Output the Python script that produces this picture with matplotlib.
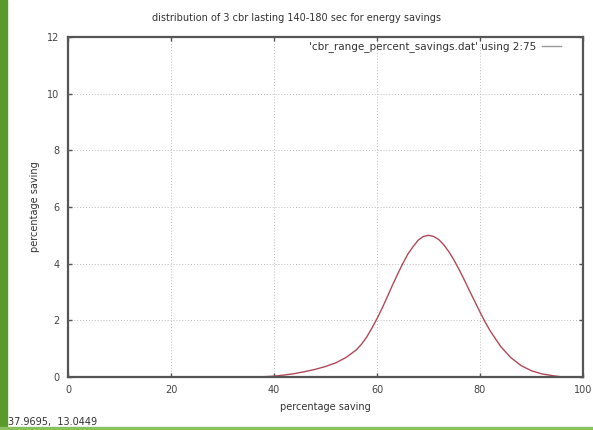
#!/usr/bin/env python3

import matplotlib
matplotlib.use("Agg")
import matplotlib.pyplot as plt
from matplotlib.patches import Rectangle

plt.rcParams['font.family'] = 'DejaVu Sans'
plt.rcParams['font.size'] = 7

# percentage saving vs percent of runs
savings = [34, 36, 38, 40, 42, 44, 46, 48, 50, 52, 54, 56, 57, 58, 59, 60, 61,
           62, 63, 64, 65, 66, 67, 68, 69, 70, 71, 72, 73, 74, 75, 76, 77, 78,
           79, 80, 81, 82, 84, 86, 88, 90, 92, 94, 96]
percent = [0.0, 0.0, 0.01, 0.03, 0.07, 0.12, 0.19, 0.27, 0.37, 0.5, 0.69,
           0.96, 1.16, 1.41, 1.72, 2.06, 2.43, 2.83, 3.24, 3.63, 4.0, 4.34,
           4.6, 4.83, 4.96, 5.0, 4.96, 4.85, 4.66, 4.41, 4.11, 3.77, 3.41,
           3.03, 2.66, 2.29, 1.94, 1.62, 1.08, 0.68, 0.4, 0.22, 0.11, 0.05, 0.0]

xticks = [0, 20, 40, 60, 80, 100]
yticks = [0, 2, 4, 6, 8, 10, 12]

title = "distribution of 3 cbr lasting 140-180 sec for energy savings"
legend_label = "'cbr_range_percent_savings.dat' using 2:75"
mouse_pos = "37.9695,  13.0449"

fig = plt.figure(figsize=(5.93, 4.30), dpi=100)
ax = fig.add_axes([68 / 593, 1 - 377 / 430, (583 - 68) / 593, (377 - 37) / 430])

ax.plot(savings, percent, color="#b04a58", linewidth=1.0, label=legend_label)

ax.set_xlim(0, 100)
ax.set_ylim(0, 12)
ax.set_xticks(xticks)
ax.set_yticks(yticks)
ax.tick_params(direction="in", length=3, width=1.0, top=True, right=True,
               colors="#555555", labelcolor="#444444", pad=6)
ax.grid(True, linestyle=(0, (1, 2)), color="#bbbbbb", linewidth=0.7)
for side in ax.spines.values():
    side.set_color("#555555")
    side.set_linewidth(1.6)

ax.set_xlabel("percentage saving", color="#333333", labelpad=5)
ax.set_ylabel("percentage saving", color="#333333", labelpad=5)
fig.text(0.5, 1 - 18 / 430, title, ha="center", va="center", color="#333333")

leg = ax.legend(loc="upper right", frameon=False, handlelength=1.8,
                handletextpad=0.5, borderaxespad=1.0, markerfirst=False,
                fontsize=7.5, bbox_to_anchor=(0.985, 1.03))
for t in leg.get_texts():
    t.set_color("#333333")
for h in leg.get_lines():
    h.set_color("#999999")

fig.text(8 / 593, 1 - 422 / 430, mouse_pos, ha="left", va="center", color="#333333")

# window decoration: green stripes on left and bottom edge
fig.patches.append(Rectangle((0, 0), 7 / 593, 1, transform=fig.transFigure,
                             color="#5a9a2a", zorder=0))
fig.patches.append(Rectangle((0, 0), 1, 3 / 430, transform=fig.transFigure,
                             color="#8ac060", zorder=0))

fig.savefig("out.png", dpi=100)
